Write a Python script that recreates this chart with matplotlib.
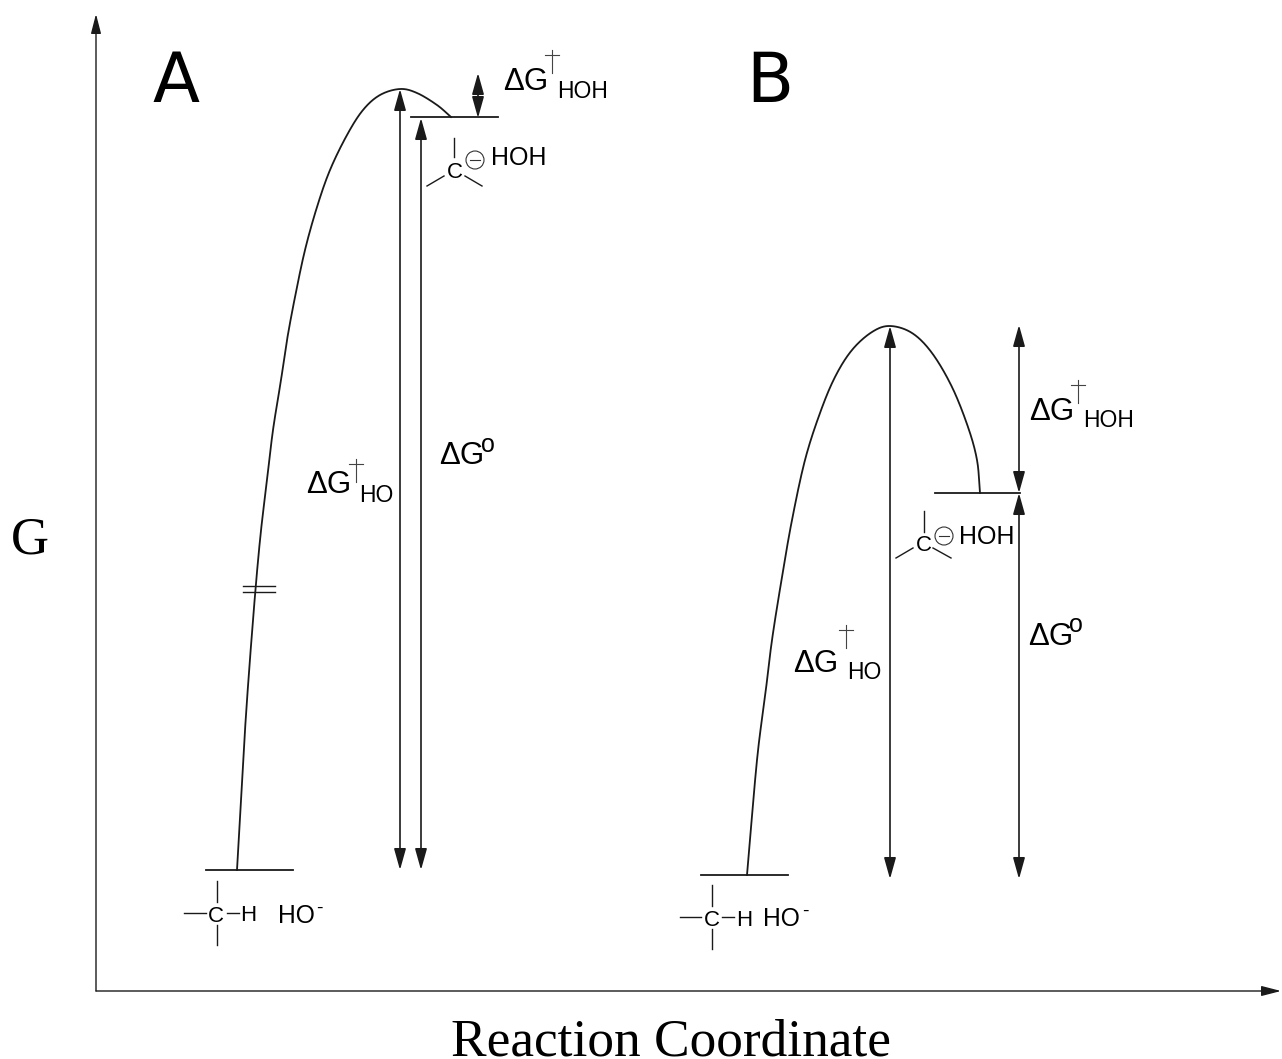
import numpy as np
import matplotlib
matplotlib.use("Agg")
import matplotlib.pyplot as plt

W, H = 1282, 1059
SANS = "Liberation Sans"
SERIF = "Liberation Serif"

# Energy profiles (x, y in image pixels)
curve_a_x = [237, 245, 253, 260, 267, 273, 281, 287, 295, 305, 317, 330, 347, 363, 380, 400, 417, 437, 451]
curve_a_y = [870, 730, 620, 540, 480, 430, 380, 340, 297, 250, 207, 170, 135, 110, 95, 89, 93, 105, 117]
curve_b_x = [747, 757, 765, 772, 782, 792, 805, 820, 835, 852, 872, 890, 912, 932, 952, 968, 977, 980]
curve_b_y = [875, 760, 697, 640, 577, 520, 460, 413, 377, 350, 332, 326, 333, 353, 387, 427, 460, 493]

# Energy levels: x0, x1, y
levels = [(206, 293, 870), (411, 498, 117), (701, 788, 875), (935, 1020, 493)]
# Double-headed arrows: x, y top, y bottom
arrows = [(400, 89, 870), (421, 118, 870), (478, 73, 118),
          (890, 326, 879), (1019, 325, 493), (1019, 493, 879)]
# Simple strokes: x0, y0, x1, y1
strokes = [
    (243, 586, 275, 586), (243, 592, 275, 592),
    (454, 138, 454, 157), (427, 186, 444, 176), (465, 176, 482, 186),
    (924, 511, 924, 532), (896, 558, 913, 548), (933, 548, 951, 558),
    (217, 881, 217, 902), (217, 925, 217, 945), (184, 913, 206, 913), (227, 913, 239, 913),
    (712, 885, 712, 906), (712, 929, 712, 949), (680, 917, 701, 917), (722, 917, 734, 917),
]
# Circled minus signs: x, y
minus_signs = [(475, 160), (944, 536)]
# Labels: x, y, text, size, family
labels = [
    (152, 102, "A", 49.5, "DejaVu Sans"),
    (746, 102, "B", 49.5, "DejaVu Sans"),
    (11, 553, "G", 38, SERIF),
    (451, 1056, "Reaction Coordinate", 38.4, SERIF),
    (503, 90, "ΔG", 22.5, SANS), (557, 98, "HOH", 16.5, SANS),
    (306, 493, "ΔG", 22.5, SANS), (359, 502, "HO", 16.5, SANS),
    (439, 464, "ΔG", 22.5, SANS), (481, 452, "o", 18, SANS),
    (1029, 420, "ΔG", 22.5, SANS), (1083, 427, "HOH", 16.5, SANS),
    (793, 672, "ΔG", 22.5, SANS), (847, 679, "HO", 16.5, SANS),
    (1028, 645, "ΔG", 22.5, SANS), (1069, 632, "o", 18, SANS),
    (491, 165, "HOH", 18, SANS), (959, 544, "HOH", 18, SANS),
    (447, 178, "C", 16, SANS), (916, 551, "C", 16, SANS),
    (208, 922, "C", 16, SANS), (704, 926, "C", 16, SANS),
    (240, 921, "H", 16, SANS), (736, 926, "H", 16, SANS),
    (278, 923, "HO", 17.7, SANS), (763, 926, "HO", 17.7, SANS),
    (316, 913, "-", 14, SANS), (802, 916, "-", 14, SANS),
]
# Dagger marks: x, bottom y
daggers = [(552, 73), (356, 482), (1078, 403), (846, 648)]


def smooth(xs, ys, n=24):
    p = np.column_stack([xs, ys]).astype(float)
    p = np.vstack([2 * p[0] - p[1], p, 2 * p[-1] - p[-2]])
    out = []
    t = np.linspace(0, 1, n, endpoint=False)[:, None]
    for i in range(1, len(p) - 2):
        a, b, c, d = p[i - 1], p[i], p[i + 1], p[i + 2]
        out.append(0.5 * (2 * b + (c - a) * t + (2 * a - 5 * b + 4 * c - d) * t**2
                          + (3 * b - a - 3 * c + d) * t**3))
    out.append(p[-2][None, :])
    return np.vstack(out)


fig = plt.figure(figsize=(W / 100, H / 100), dpi=100)
ax = fig.add_axes([0, 0, 1, 1])
ax.set_xlim(0, W)
ax.set_ylim(H, 0)
ax.axis("off")

LINE = "#1a1a1a"
for xs, ys in ((curve_a_x, curve_a_y), (curve_b_x, curve_b_y)):
    s = smooth(xs, ys)
    ax.plot(s[:, 0], s[:, 1], color=LINE, lw=1.3)
for x0, x1, y in levels:
    ax.plot([x0, x1], [y, y], color=LINE, lw=1.3)
for x0, y0, x1, y1 in strokes:
    ax.plot([x0, x1], [y0, y1], color=LINE, lw=1.0)

head = dict(arrowstyle="<|-|>,head_length=0.93,head_width=0.26", color=LINE, lw=1.2,
            shrinkA=0, shrinkB=0, mutation_scale=14)
for x, y0, y1 in arrows:
    ax.annotate("", xy=(x, y0), xytext=(x, y1), arrowprops=head)

axis_head = dict(arrowstyle="-|>,head_length=0.85,head_width=0.22", color=LINE, lw=1.0,
                 shrinkA=0, shrinkB=0, mutation_scale=14)
ax.annotate("", xy=(96, 14), xytext=(96, 991), arrowprops=axis_head)
ax.annotate("", xy=(1281, 991), xytext=(96, 991), arrowprops=axis_head)

for x, y in minus_signs:
    ax.add_patch(plt.Circle((x, y), 9, fill=False, ec="#333333", lw=0.8))
    ax.plot([x - 5, x + 5], [y, y], color="#333333", lw=0.8)

for x, y, text, size, family in labels:
    ax.text(x, y, text, fontsize=size, family=family, color="#000000", ha="left", va="baseline")
for x, y in daggers:
    ax.plot([x, x], [y - 23, y], color="#444444", lw=0.8)
    ax.plot([x - 7, x + 7], [y - 18, y - 18], color="#444444", lw=0.8)

fig.savefig("out.png", dpi=100)
